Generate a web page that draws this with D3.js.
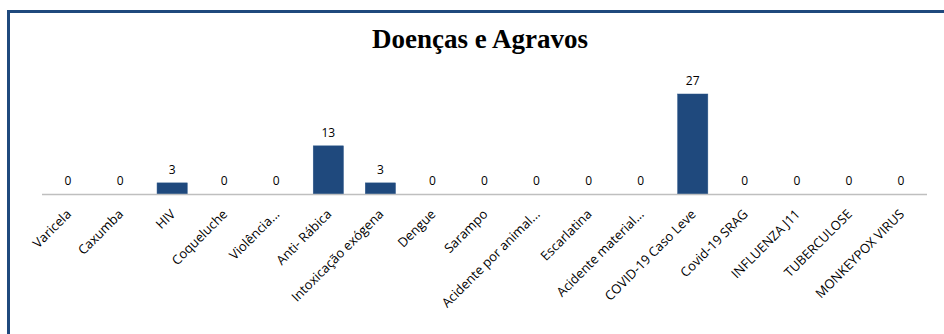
<!DOCTYPE html>
<html><head><meta charset="utf-8">
<script src="https://cdn.jsdelivr.net/npm/d3@7"></script>
<style>html,body{margin:0;padding:0;background:#fff;}svg{display:block;}</style>
</head><body>
<script>
const categories = ["Varicela","Caxumba","HIV","Coqueluche","Violência...","Anti- Rábica","Intoxicação exógena","Dengue","Sarampo","Acidente por animal...","Escarlatina","Acidente material...","COVID-19 Caso Leve","Covid-19 SRAG","INFLUENZA J11","TUBERCULOSE","MONKEYPOX VIRUS"];
const values = [0,0,3,0,0,13,3,0,0,0,0,0,27,0,0,0,0];
const title = "Doenças e Agravos";

const W = 944, H = 334;
const svg = d3.select("body").append("svg").attr("width", W).attr("height", H);

// frame
svg.append("line").attr("x1", 8.5).attr("x2", 8.5).attr("y1", 10).attr("y2", H).attr("stroke", "#1F497D").attr("stroke-width", 3);
svg.append("line").attr("x1", 7).attr("x2", W).attr("y1", 11.5).attr("y2", 11.5).attr("stroke", "#1F497D").attr("stroke-width", 3);

const x = d3.scaleBand().domain(categories).range([42, 927]).paddingInner(0.42).paddingOuter(0.21);
const y = d3.scaleLinear().domain([0, 27]).range([194, 94]);

svg.append("text").attr("x", 480).attr("y", 48).attr("text-anchor", "middle")
  .attr("font-family", "Liberation Serif, Times New Roman, serif").attr("font-weight", "bold")
  .attr("font-size", 27).attr("fill", "#000").text(title);

svg.selectAll("rect.bar").data(values).enter().append("rect").attr("class", "bar")
  .attr("x", (d, i) => x(categories[i])).attr("width", x.bandwidth())
  .attr("y", d => y(d)).attr("height", d => y(0) - y(d))
  .attr("fill", "#1F497D").attr("stroke", "#2A5588").attr("stroke-width", 0.5);

svg.append("line").attr("x1", 42).attr("x2", 927).attr("y1", 194.5).attr("y2", 194.5)
  .attr("stroke", "#BFBFBF").attr("stroke-width", 1.5);

svg.selectAll("text.val").data(values).enter().append("text").attr("class", "val")
  .attr("x", (d, i) => x(categories[i]) + x.bandwidth() / 2)
  .attr("y", d => y(d) - 9).attr("text-anchor", "middle")
  .attr("font-family", "Open Sans, Noto Sans, sans-serif").attr("font-size", 12)
  .attr("fill", "#000").text(d => d);

svg.selectAll("text.cat").data(categories).enter().append("text").attr("class", "cat")
  .attr("text-anchor", "end")
  .attr("transform", d => `translate(${x(d) + x.bandwidth() / 2 + 4},${215}) rotate(-45)`)
  .attr("font-family", "Open Sans, Noto Sans, sans-serif").attr("font-size", 13)
  .attr("fill", "#000").text(d => d);
</script>
</body></html>
